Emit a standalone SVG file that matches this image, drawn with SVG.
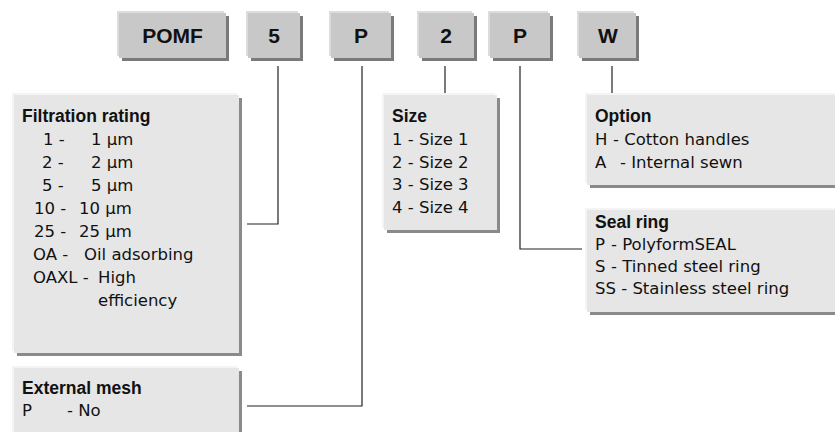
<svg xmlns="http://www.w3.org/2000/svg" width="835" height="432" viewBox="0 0 835 432">
<style>
.hl{fill:#dcdcdc}
.sh{fill:#7a7a7a}
.code{fill:#c8c8c8}
.ihl{fill:#f4f4f4}
.ish{fill:#8a8a8a}
.info{fill:#e6e6e6}
.ct{font-family:"Liberation Sans",Arial,sans-serif;font-size:21px;font-weight:bold;fill:#111;text-anchor:middle}
.hd{font-family:"Liberation Sans",Arial,sans-serif;font-size:17.5px;font-weight:bold;fill:#111}
.tx{font-family:"DejaVu Sans",sans-serif;font-size:16.5px;fill:#111}
.conn{fill:none;stroke:#222;stroke-width:1.2}
</style>
<rect width="835" height="432" fill="#ffffff"/>
<g id="code-POMF">
<rect class="hl" x="117" y="11" width="107" height="45"/>
<rect class="sh" x="122" y="16" width="107" height="45"/>
<rect class="code" x="119" y="13" width="107" height="45"/>
<text class="ct" x="172.5" y="43">POMF</text>
</g>
<g id="code-5">
<rect class="hl" x="246" y="11" width="52" height="45"/>
<rect class="sh" x="251" y="16" width="52" height="45"/>
<rect class="code" x="248" y="13" width="52" height="45"/>
<text class="ct" x="274" y="43">5</text>
</g>
<g id="code-P1">
<rect class="hl" x="329" y="11" width="60" height="45"/>
<rect class="sh" x="334" y="16" width="60" height="45"/>
<rect class="code" x="331" y="13" width="60" height="45"/>
<text class="ct" x="361" y="43">P</text>
</g>
<g id="code-2">
<rect class="hl" x="417" y="11" width="55" height="45"/>
<rect class="sh" x="422" y="16" width="55" height="45"/>
<rect class="code" x="419" y="13" width="55" height="45"/>
<text class="ct" x="446" y="43">2</text>
</g>
<g id="code-P2">
<rect class="hl" x="488" y="11" width="60" height="45"/>
<rect class="sh" x="493" y="16" width="60" height="45"/>
<rect class="code" x="490" y="13" width="60" height="45"/>
<text class="ct" x="520" y="43">P</text>
</g>
<g id="code-W">
<rect class="hl" x="577" y="11" width="57" height="45"/>
<rect class="sh" x="582" y="16" width="57" height="45"/>
<rect class="code" x="579" y="13" width="57" height="45"/>
<text class="ct" x="608" y="43">W</text>
</g>
<g id="connectors">
<path class="conn" d="M278,66 V224 H247"/>
<path class="conn" d="M362,66 V406 H247"/>
<path class="conn" d="M445,66 V93"/>
<path class="conn" d="M520,66 V249 H582"/>
<path class="conn" d="M612,66 V93"/>
</g>
<g id="filtration-rating">
<rect class="ihl" x="12" y="93" width="225" height="258"/>
<rect class="ish" x="17" y="98" width="225" height="258"/>
<rect class="info" x="14" y="95" width="225" height="258"/>
<text class="hd" x="22" y="122">Filtration rating</text>
<text class="tx" y="145"><tspan x="43">1 -</tspan><tspan x="91">1 µm</tspan></text>
<text class="tx" y="168"><tspan x="42">2 -</tspan><tspan x="91">2 µm</tspan></text>
<text class="tx" y="191"><tspan x="42">5 -</tspan><tspan x="91">5 µm</tspan></text>
<text class="tx" y="214"><tspan x="34">10 -</tspan><tspan x="79">10 µm</tspan></text>
<text class="tx" y="237"><tspan x="34">25 -</tspan><tspan x="79">25 µm</tspan></text>
<text class="tx" y="260"><tspan x="33">OA -</tspan><tspan x="84">Oil adsorbing</tspan></text>
<text class="tx" y="283"><tspan x="33">OAXL -</tspan><tspan x="98">High</tspan></text>
<text class="tx" y="306" x="98">efficiency</text>
</g>
<g id="size">
<rect class="ihl" x="382" y="93" width="113" height="135"/>
<rect class="ish" x="387" y="98" width="113" height="135"/>
<rect class="info" x="384" y="95" width="113" height="135"/>
<text class="hd" x="392" y="122">Size</text>
<text class="tx" x="392" y="145">1 - Size 1</text>
<text class="tx" x="392" y="168">2 - Size 2</text>
<text class="tx" x="392" y="190">3 - Size 3</text>
<text class="tx" x="392" y="213">4 - Size 4</text>
</g>
<g id="option">
<rect class="ihl" x="585" y="93" width="260" height="90"/>
<rect class="ish" x="590" y="98" width="260" height="90"/>
<rect class="info" x="587" y="95" width="260" height="90"/>
<text class="hd" x="595" y="122">Option</text>
<text class="tx" y="145"><tspan x="595">H</tspan><tspan x="613">- Cotton handles</tspan></text>
<text class="tx" y="168"><tspan x="595">A</tspan><tspan x="620">- Internal sewn</tspan></text>
</g>
<g id="seal-ring">
<rect class="ihl" x="585" y="208" width="260" height="102"/>
<rect class="ish" x="590" y="213" width="260" height="102"/>
<rect class="info" x="587" y="210" width="260" height="102"/>
<text class="hd" x="595" y="228">Seal ring</text>
<text class="tx" y="250"><tspan x="595">P</tspan><tspan x="611">- PolyformSEAL</tspan></text>
<text class="tx" y="272"><tspan x="595">S</tspan><tspan x="611">- Tinned steel ring</tspan></text>
<text class="tx" x="595" y="294">SS - Stainless steel ring</text>
</g>
<g id="external-mesh">
<rect class="ihl" x="12" y="366" width="225" height="80"/>
<rect class="ish" x="17" y="371" width="225" height="80"/>
<rect class="info" x="14" y="368" width="225" height="80"/>
<text class="hd" x="22" y="394">External mesh</text>
<text class="tx" y="416"><tspan x="22">P</tspan><tspan x="67">- No</tspan></text>
</g>
</svg>
